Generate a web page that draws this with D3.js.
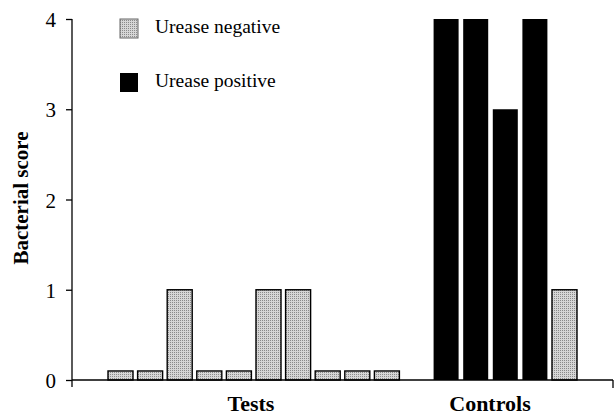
<!DOCTYPE html>
<html>
<head>
<meta charset="utf-8">
<script src="https://cdn.jsdelivr.net/npm/d3@7"></script>
<style>
  html, body { margin: 0; padding: 0; background: #fff; }
  svg { display: block; }
  text { font-family: "Liberation Serif", "Times New Roman", serif; fill: #000; }
</style>
</head>
<body>
<svg id="chart" width="614" height="418"></svg>
<script>
// ---- data ----
const testCategories = ["T1","T2","T3","T4","T5","T6","T7","T8","T9","T10"];
const testScores     = [0.1, 0.1, 1, 0.1, 0.1, 1, 1, 0.1, 0.1, 0.1];
const testUrease     = ["negative","negative","negative","negative","negative","negative","negative","negative","negative","negative"];
const controlCategories = ["C1","C2","C3","C4","C5"];
const controlScores     = [4, 4, 3, 4, 1];
const controlUrease     = ["positive","positive","positive","positive","negative"];
const gapCategory = ["gap"];
const yTicks = [0, 1, 2, 3, 4];
const groupLabels = ["Tests", "Controls"];
const legendLabels = ["Urease negative", "Urease positive"];
const yAxisTitle = "Bacterial score";

// ---- build ----
const rows = testCategories.map((c, i) => ({cat: c, v: testScores[i], u: testUrease[i], g: 0}))
  .concat(controlCategories.map((c, i) => ({cat: c, v: controlScores[i], u: controlUrease[i], g: 1})));
const domain = testCategories.concat(gapCategory, controlCategories);

const svg = d3.select("#chart");

// stipple pattern for urease-negative bars
const defs = svg.append("defs");
const pat = defs.append("pattern").attr("id", "stipple").attr("patternUnits", "userSpaceOnUse")
  .attr("width", 2).attr("height", 2);
pat.append("rect").attr("width", 2).attr("height", 2).attr("fill", "#d6d6d6");
pat.append("rect").attr("width", 1).attr("height", 1).attr("fill", "#8a8a8a");

const axisX = 72, axisRight = 613;
const y = d3.scaleLinear().domain([0, 4]).range([380, 19]);
const x = d3.scaleBand().domain(domain).range([108, 577]).paddingInner(0.155).paddingOuter(0);

const fillFor = u => u === "positive" ? "#000" : "url(#stipple)";

// bars
svg.append("g").selectAll("rect").data(rows).join("rect")
  .attr("x", d => x(d.cat))
  .attr("y", d => y(d.v))
  .attr("width", x.bandwidth())
  .attr("height", d => y(0) - y(d.v))
  .attr("fill", d => fillFor(d.u))
  .attr("stroke", d => d.u === "positive" ? "none" : "#000")
  .attr("stroke-width", 1.4);

// y axis
const yAxis = svg.append("g").attr("transform", `translate(${axisX},0)`)
  .call(d3.axisLeft(y).tickValues(yTicks).tickFormat(d3.format("d")).tickSize(6).tickSizeOuter(0).tickPadding(10));
yAxis.select(".domain").remove();
yAxis.selectAll("line").attr("stroke", "#000").attr("stroke-width", 1.3);
yAxis.selectAll("text").style("font-family", "'Liberation Serif', serif").style("font-size", "21px").attr("dy", "0.36em");
svg.append("line").attr("x1", axisX).attr("x2", axisX).attr("y1", y(4)).attr("y2", y(0) + 7)
  .attr("stroke", "#000").attr("stroke-width", 1.3);

// x axis line
svg.append("line").attr("x1", axisX).attr("x2", axisRight).attr("y1", y(0)).attr("y2", y(0))
  .attr("stroke", "#000").attr("stroke-width", 1.3);
svg.append("line").attr("x1", axisRight).attr("x2", axisRight).attr("y1", y(0)).attr("y2", y(0) + 8)
  .attr("stroke", "#000").attr("stroke-width", 1.3);

// group labels
const groupCenters = [251, 490];
groupLabels.forEach((t, i) => {
  svg.append("text").attr("x", groupCenters[i]).attr("y", 411)
    .attr("text-anchor", "middle").style("font-weight", "bold").style("font-size", "22px").text(t);
});

// y title
svg.append("text").attr("transform", "translate(28,198) rotate(-90)")
  .attr("text-anchor", "middle").style("font-weight", "bold").style("font-size", "21px").text(yAxisTitle);

// legend
const legendFills = ["negative", "positive"];
legendLabels.forEach((t, i) => {
  const ly = 19 + i * 54;
  svg.append("rect").attr("x", 120).attr("y", ly).attr("width", 18).attr("height", 19)
    .attr("fill", fillFor(legendFills[i]))
    .attr("stroke", legendFills[i] === "positive" ? "none" : "#666").attr("stroke-width", 1);
  svg.append("text").attr("x", 155).attr("y", ly + 14).style("font-size", "19.5px").text(t);
});
</script>
</body>
</html>
